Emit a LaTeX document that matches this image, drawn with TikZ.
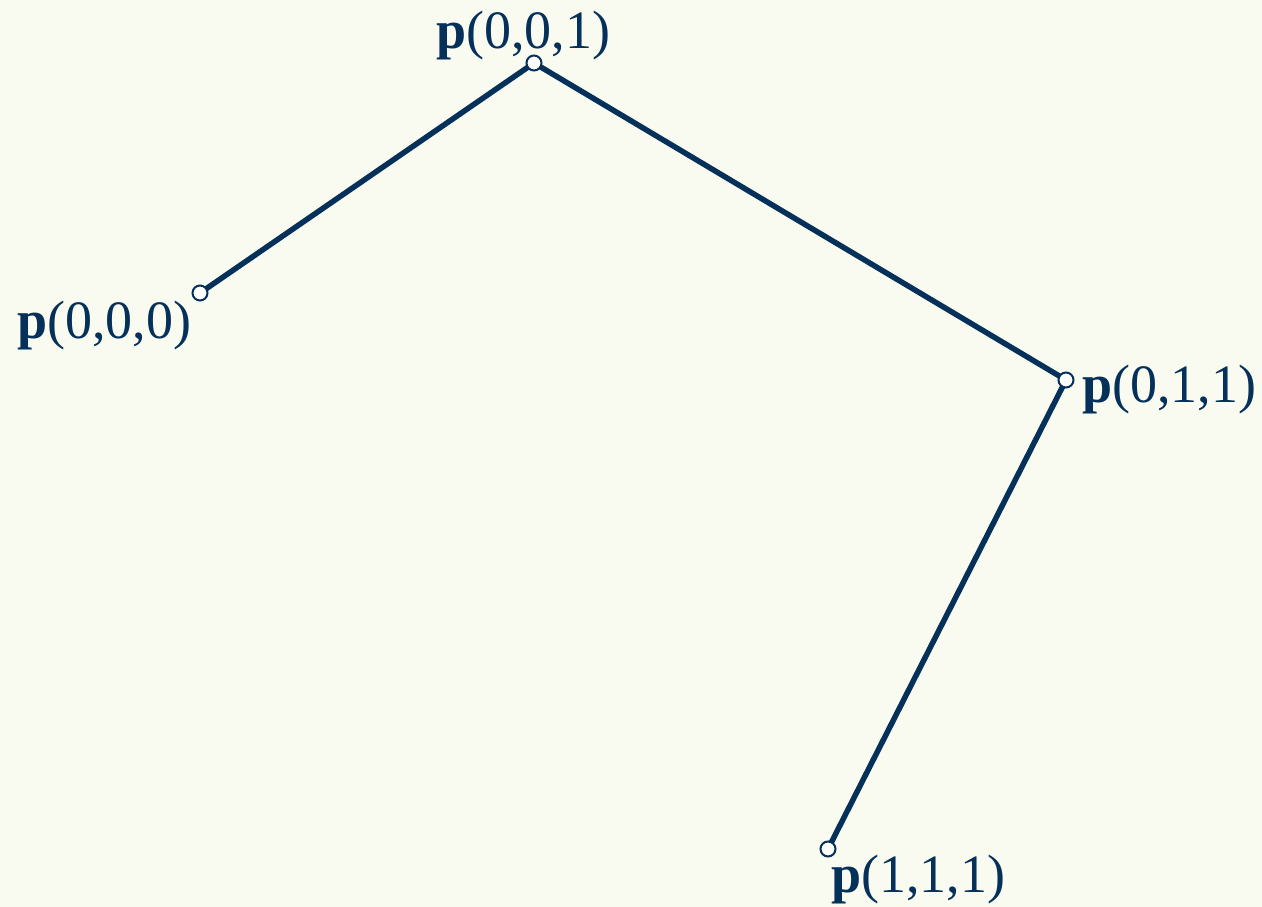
\documentclass[tikz,border=0pt]{standalone}
\usepackage{fontspec}
\setmainfont{Liberation Serif}
\definecolor{navy}{HTML}{04305A}
\definecolor{bg}{HTML}{FAFBF0}
\begin{document}
\begin{tikzpicture}[x=1pt,y=-1pt,
  edge/.style={draw=navy,line width=5.5pt},
  vtx/.style={circle,draw=navy,fill=white,line width=2pt,minimum size=15pt,inner sep=0pt},
  lbl/.style={text=navy,font=\fontsize{54}{58}\selectfont,inner sep=0pt,anchor=center}]
\fill[bg] (0,0) rectangle (1262,907);
\useasboundingbox (0,0) rectangle (1262,907);
\coordinate (a) at (200,293);
\coordinate (b) at (534,63);
\coordinate (c) at (1066,380);
\coordinate (d) at (828,849);
\draw[edge] (a) -- (b) -- (c) -- (d);
\node[vtx] (na) at (a) {};
\node[vtx] (nb) at (b) {};
\node[vtx] (nc) at (c) {};
\node[vtx] (nd) at (d) {};
\node[lbl] (la) at (104,326) {\textbf{p}(0,0,0)};
\node[lbl] (lb) at (523,36) {\textbf{p}(0,0,1)};
\node[lbl] (lc) at (1169,390) {\textbf{p}(0,1,1)};
\node[lbl] (ld) at (918,880) {\textbf{p}(1,1,1)};
\end{tikzpicture}
\end{document}
